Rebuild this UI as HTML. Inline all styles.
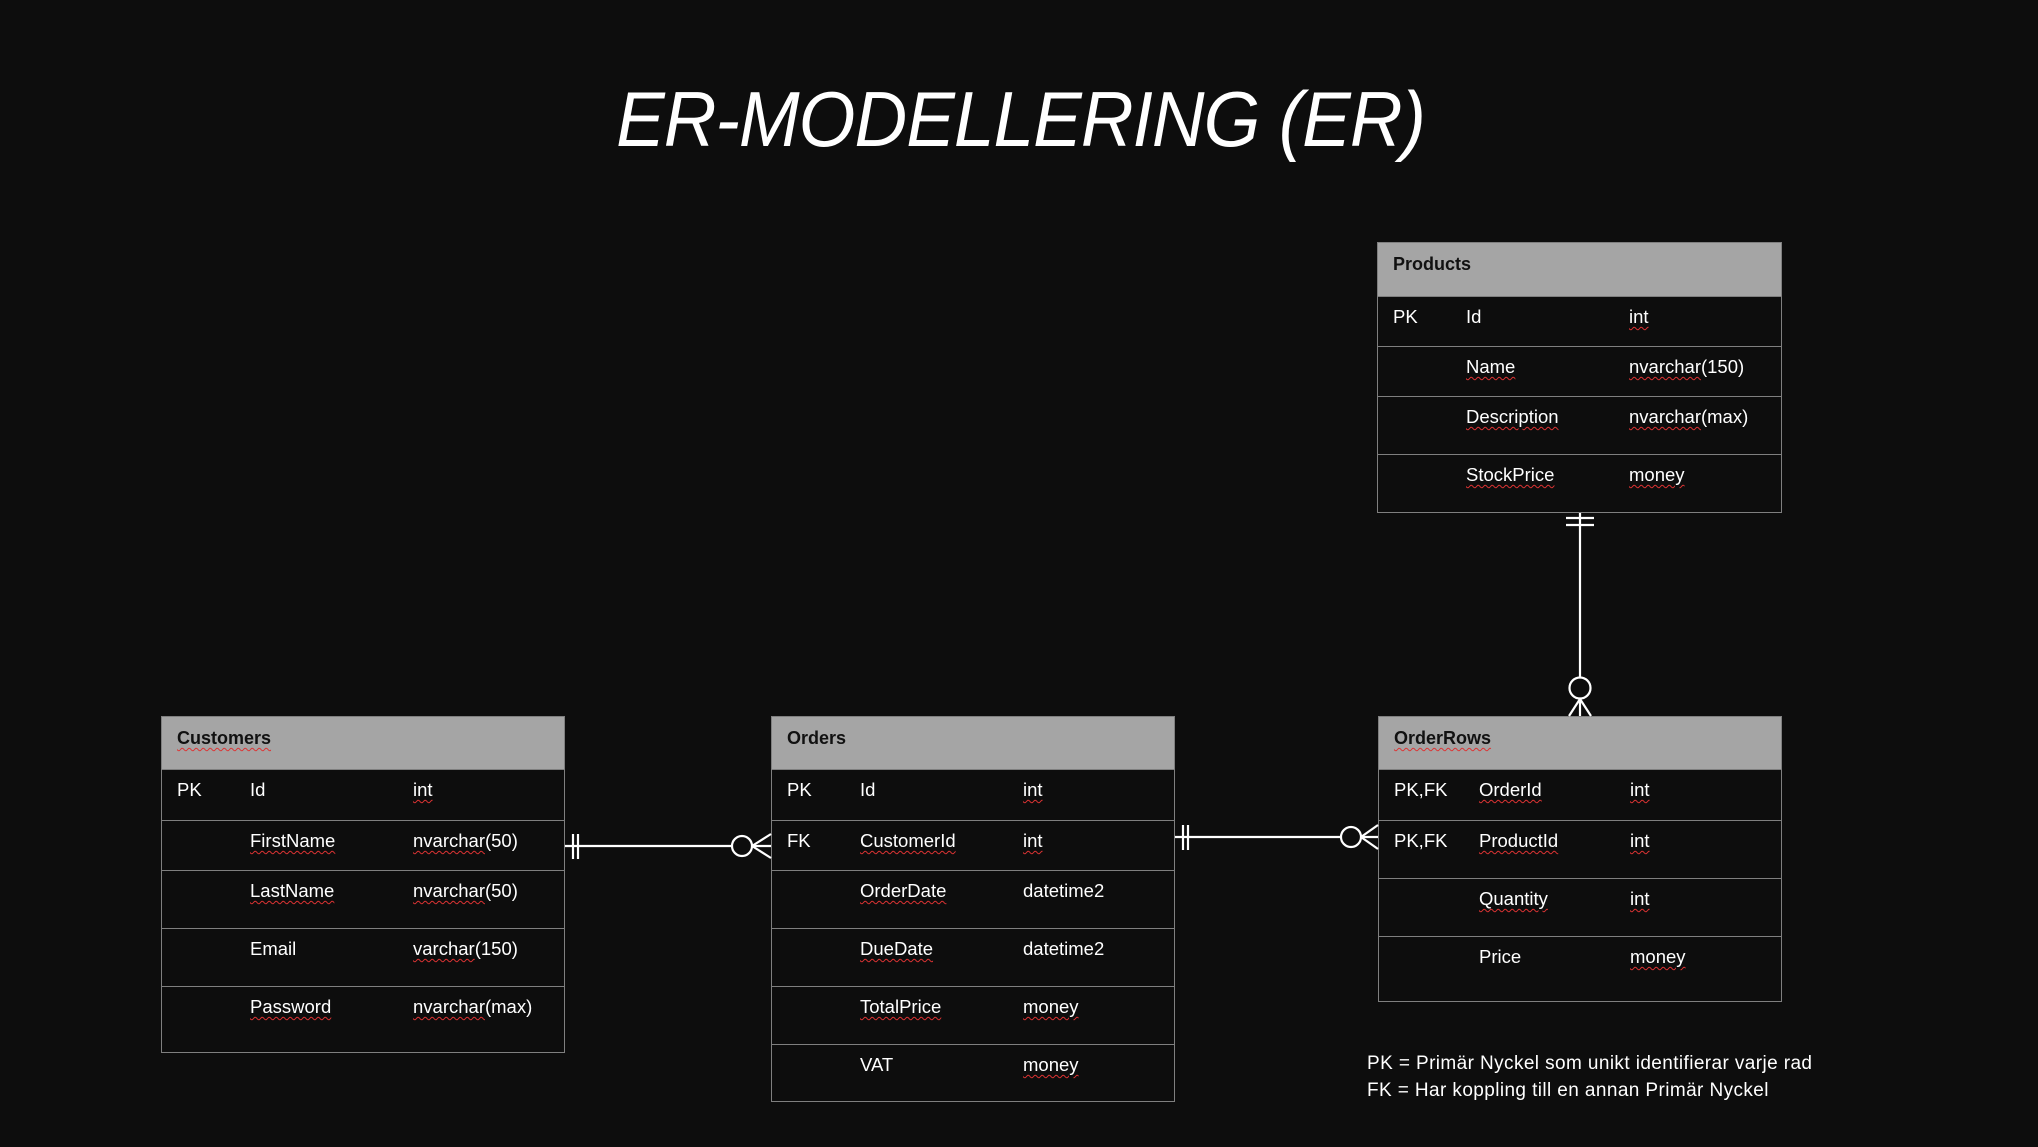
<!DOCTYPE html>
<html><head><meta charset="utf-8">
<style>
html,body{margin:0;padding:0;background:#0d0d0d;}
body{width:2038px;height:1147px;position:relative;overflow:hidden;font-family:"Liberation Sans",sans-serif;}
.title{position:absolute;left:515px;width:1011px;top:74px;text-align:center;color:#fff;font-style:italic;font-size:78px;line-height:90px;white-space:nowrap;letter-spacing:-1px;transform:scaleX(0.935);transform-origin:center;}
.box{position:absolute;border:1.5px solid #7f7f7f;box-sizing:border-box;}
.hdr{position:absolute;left:0;right:0;top:0;background:#a5a5a5;border-bottom:1.5px solid #7f7f7f;box-sizing:border-box;}
.hdr span{position:absolute;left:15px;top:11px;font-weight:bold;font-size:18px;color:#111;}
.row{position:absolute;left:0;right:0;border-bottom:1.5px solid #7f7f7f;box-sizing:border-box;}
.row:last-child{border-bottom:none;}
.t{position:absolute;top:10px;color:#fff;font-size:18.5px;white-space:nowrap;}
.u{text-decoration:underline wavy #d33;text-decoration-thickness:1px;text-underline-offset:3px;}
.legend{position:absolute;left:1367px;top:1050px;color:#fff;font-size:19px;letter-spacing:0.4px;line-height:27px;}
</style></head><body>
<div class="title">ER-MODELLERING (ER)</div>

<!-- Customers -->
<div class="box" style="left:161px;top:716px;width:404px;height:337px;">
 <div class="hdr" style="height:53px;"><span class="u">Customers</span></div>
 <div class="row" style="top:52px;height:52px;"><span class="t" style="left:15px">PK</span><span class="t" style="left:88px">Id</span><span class="t u" style="left:251px">int</span></div>
 <div class="row" style="top:103px;height:51px;"><span class="t u" style="left:88px">FirstName</span><span class="t" style="left:251px"><span class="u">nvarchar</span>(50)</span></div>
 <div class="row" style="top:153px;height:59px;"><span class="t u" style="left:88px">LastName</span><span class="t" style="left:251px"><span class="u">nvarchar</span>(50)</span></div>
 <div class="row" style="top:211px;height:59px;"><span class="t" style="left:88px">Email</span><span class="t" style="left:251px"><span class="u">varchar</span>(150)</span></div>
 <div class="row" style="top:269px;height:66px;"><span class="t u" style="left:88px">Password</span><span class="t" style="left:251px"><span class="u">nvarchar</span>(max)</span></div>
</div>

<!-- Orders -->
<div class="box" style="left:771px;top:716px;width:404px;height:386px;">
 <div class="hdr" style="height:53px;"><span>Orders</span></div>
 <div class="row" style="top:52px;height:52px;"><span class="t" style="left:15px">PK</span><span class="t" style="left:88px">Id</span><span class="t u" style="left:251px">int</span></div>
 <div class="row" style="top:103px;height:51px;"><span class="t" style="left:15px">FK</span><span class="t u" style="left:88px">CustomerId</span><span class="t u" style="left:251px">int</span></div>
 <div class="row" style="top:153px;height:59px;"><span class="t u" style="left:88px">OrderDate</span><span class="t" style="left:251px">datetime2</span></div>
 <div class="row" style="top:211px;height:59px;"><span class="t u" style="left:88px">DueDate</span><span class="t" style="left:251px">datetime2</span></div>
 <div class="row" style="top:269px;height:59px;"><span class="t u" style="left:88px">TotalPrice</span><span class="t u" style="left:251px">money</span></div>
 <div class="row" style="top:327px;height:58px;"><span class="t" style="left:88px">VAT</span><span class="t u" style="left:251px">money</span></div>
</div>

<!-- OrderRows -->
<div class="box" style="left:1378px;top:716px;width:404px;height:286px;">
 <div class="hdr" style="height:53px;"><span class="u">OrderRows</span></div>
 <div class="row" style="top:52px;height:52px;"><span class="t" style="left:15px">PK,FK</span><span class="t u" style="left:100px">OrderId</span><span class="t u" style="left:251px">int</span></div>
 <div class="row" style="top:103px;height:59px;"><span class="t" style="left:15px">PK,FK</span><span class="t u" style="left:100px">ProductId</span><span class="t u" style="left:251px">int</span></div>
 <div class="row" style="top:161px;height:59px;"><span class="t u" style="left:100px">Quantity</span><span class="t u" style="left:251px">int</span></div>
 <div class="row" style="top:219px;height:66px;"><span class="t" style="left:100px">Price</span><span class="t u" style="left:251px">money</span></div>
</div>

<!-- Products -->
<div class="box" style="left:1377px;top:242px;width:405px;height:271px;">
 <div class="hdr" style="height:54px;"><span>Products</span></div>
 <div class="row" style="top:53px;height:51px;"><span class="t" style="left:15px">PK</span><span class="t" style="left:88px">Id</span><span class="t u" style="left:251px">int</span></div>
 <div class="row" style="top:103px;height:51px;"><span class="t u" style="left:88px">Name</span><span class="t" style="left:251px"><span class="u">nvarchar</span>(150)</span></div>
 <div class="row" style="top:153px;height:59px;"><span class="t u" style="left:88px">Description</span><span class="t" style="left:251px"><span class="u">nvarchar</span>(max)</span></div>
 <div class="row" style="top:211px;height:58px;"><span class="t u" style="left:88px">StockPrice</span><span class="t u" style="left:251px">money</span></div>
</div>

<svg style="position:absolute;left:0;top:0" width="2038" height="1147">
 <g stroke="#fff" stroke-width="2.2" fill="none">
  <line x1="565" y1="846" x2="732" y2="846"/>
  <line x1="573" y1="834" x2="573" y2="859"/>
  <line x1="578" y1="834" x2="578" y2="859"/>
  <circle cx="742" cy="846" r="10"/>
  <line x1="752" y1="846" x2="771" y2="834"/>
  <line x1="752" y1="846" x2="771" y2="846"/>
  <line x1="752" y1="846" x2="771" y2="858"/>
  <line x1="1175" y1="837" x2="1341" y2="837"/>
  <line x1="1183" y1="825" x2="1183" y2="850"/>
  <line x1="1188" y1="825" x2="1188" y2="850"/>
  <circle cx="1351" cy="837" r="10"/>
  <line x1="1361" y1="837" x2="1378" y2="825"/>
  <line x1="1361" y1="837" x2="1378" y2="837"/>
  <line x1="1361" y1="837" x2="1378" y2="849"/>
  <line x1="1580" y1="513" x2="1580" y2="677"/>
  <line x1="1566" y1="518" x2="1594" y2="518"/>
  <line x1="1566" y1="525" x2="1594" y2="525"/>
  <circle cx="1580" cy="688" r="10.5"/>
  <line x1="1580" y1="699" x2="1569" y2="716"/>
  <line x1="1580" y1="699" x2="1580" y2="716"/>
  <line x1="1580" y1="699" x2="1591" y2="716"/>
 </g>
</svg>

<div class="legend">PK = Primär Nyckel som unikt identifierar varje rad<br>FK = Har koppling till en annan Primär Nyckel</div>
</body></html>
